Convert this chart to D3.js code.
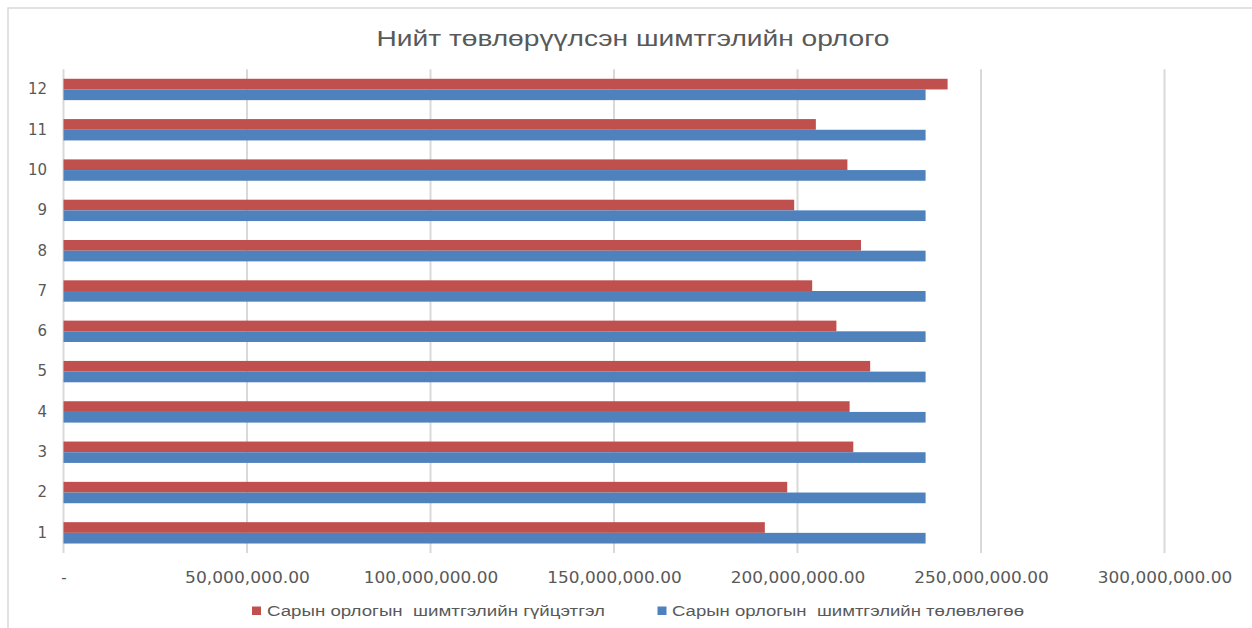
<!DOCTYPE html>
<html>
<head>
<meta charset="utf-8">
<script src="https://cdn.jsdelivr.net/npm/d3@7"></script>
<style>
  body { margin: 0; background: #fff; }
  svg { display: block; }
</style>
</head>
<body>
<svg id="chart" width="1252" height="628"></svg>
<script>
var months = ['1', '2', '3', '4', '5', '6', '7', '8', '9', '10', '11', '12'];
// гүйцэтгэл (actual)
var actual = [191100000, 197200000, 215200000, 214200000, 219800000, 210600000,
              204000000, 217300000, 199100000, 213600000, 205000000, 240900000];
// төлөвлөгөө (plan)
var plan = [234900000, 234900000, 234900000, 234900000, 234900000, 234900000,
            234900000, 234900000, 234900000, 234900000, 234900000, 234900000];
var xTicks = [0, 50000000, 100000000, 150000000, 200000000, 250000000, 300000000];
var seriesNames = ['Сарын орлогын  шимтгэлийн гүйцэтгэл', 'Сарын орлогын  шимтгэлийн төлөвлөгөө'];
var title = 'Нийт төвлөрүүлсэн шимтгэлийн орлого';

var red = '#c0504d', blue = '#4f81bd', grey = '#595959', grid = '#d9d9d9';

var svg = d3.select('#chart');

// chart frame
svg.append('path')
   .attr('d', 'M8,628 L8,8 L1252,8')
   .attr('fill', 'none')
   .attr('stroke', '#d9d9d9')
   .attr('stroke-width', 1.5);

svg.append('text')
   .attr('x', 633).attr('y', 46)
   .attr('text-anchor', 'middle')
   .attr('font-family', 'Liberation Sans, Arial, sans-serif')
   .attr('font-size', 22)
   .attr('fill', grey)
   .attr('textLength', 513)
   .attr('lengthAdjust', 'spacingAndGlyphs')
   .text(title);

var x = d3.scaleLinear().domain([0, 300000000]).range([63.5, 1164.5]);
var y = d3.scaleBand().domain(months.slice().reverse()).range([69.3, 553])
          .paddingInner(0.47).paddingOuter(0.235);
var sub = d3.scaleBand().domain([0, 1]).range([0, y.bandwidth()]);

// gridlines
svg.append('g').selectAll('line')
   .data(xTicks).enter().append('line')
   .attr('x1', function(d){ return x(d); })
   .attr('x2', function(d){ return x(d); })
   .attr('y1', 69.3).attr('y2', 553)
   .attr('stroke', grid)
   .attr('stroke-width', 2);

// x axis labels
var xAxis = svg.append('g')
   .attr('transform', 'translate(0,569)')
   .call(d3.axisBottom(x).tickValues(xTicks).tickSize(0)
      .tickFormat(function(d){ return d === 0 ? '-' : d3.format(',.2f')(d); }));
xAxis.select('.domain').remove();
xAxis.selectAll('text')
   .attr('font-family', 'DejaVu Sans, sans-serif')
   .attr('font-size', 15)
   .attr('fill', grey)
   .attr('dy', 0)
   .attr('y', 14)
   .each(function(d){
      if (d !== 0) {
         var s = d3.format(',.2f')(d);
         d3.select(this).attr('textLength', s.length * 9.6).attr('lengthAdjust', 'spacingAndGlyphs');
      }
   });

// y axis labels
var yAxis = svg.append('g')
   .attr('transform', 'translate(47,0)')
   .call(d3.axisLeft(y).tickSize(0).tickPadding(0));
yAxis.select('.domain').remove();
yAxis.selectAll('text')
   .attr('font-family', 'DejaVu Sans, sans-serif')
   .attr('font-size', 15)
   .attr('fill', grey);

// bars
var rows = svg.append('g').selectAll('g')
   .data(months).enter().append('g')
   .attr('transform', function(d){ return 'translate(0,' + y(d) + ')'; });

rows.append('rect')
   .attr('x', x(0))
   .attr('y', sub(0))
   .attr('height', sub.bandwidth())
   .attr('width', function(d, i){ return x(actual[i]) - x(0); })
   .attr('fill', red);

rows.append('rect')
   .attr('x', x(0))
   .attr('y', sub(1))
   .attr('height', sub.bandwidth())
   .attr('width', function(d, i){ return x(plan[i]) - x(0); })
   .attr('fill', blue);

// legend
var legendItems = [
   { name: seriesNames[0], color: red, sx: 252, tx: 267, w: 338 },
   { name: seriesNames[1], color: blue, sx: 657.5, tx: 672, w: 352 }
];
var legend = svg.append('g').selectAll('g')
   .data(legendItems).enter().append('g');
legend.append('rect')
   .attr('x', function(d){ return d.sx; })
   .attr('y', 606.5)
   .attr('width', 9).attr('height', 8.5)
   .attr('fill', function(d){ return d.color; });
legend.append('text')
   .attr('x', function(d){ return d.tx; })
   .attr('y', 616)
   .attr('font-family', 'Liberation Sans, Arial, sans-serif')
   .attr('font-size', 15.5)
   .attr('fill', grey)
   .attr('textLength', function(d){ return d.w; })
   .attr('lengthAdjust', 'spacingAndGlyphs')
   .style('white-space', 'pre')
   .text(function(d){ return d.name; });
</script>
</body>
</html>
